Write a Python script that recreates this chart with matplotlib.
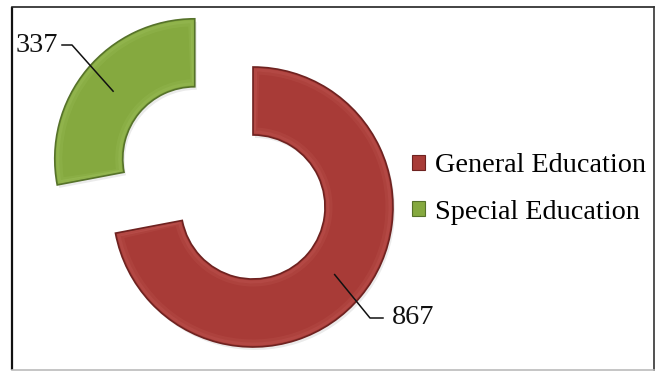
import numpy as np
import matplotlib
matplotlib.use("Agg")
import matplotlib.pyplot as plt
from matplotlib.patches import Wedge

# Enrolment by programme
categories = ["General Education", "Special Education"]
counts = [867, 337]
fill_colors = ["#A83B37", "#85A93F"]
edge_colors = ["#6E2220", "#56722A"]
light_colors = ["#C9625D", "#A6C865"]

W, H = 660, 371
fig = plt.figure(figsize=(W / 100, H / 100), dpi=100)
ax = fig.add_axes([0, 0, 1, 1])

def Y(y_img):
    return H - y_img

# frame around the chart area
ax.plot([12, 12], [Y(7), Y(370)], color="#111111", lw=1.6, solid_capstyle="butt")
ax.plot([12, 654], [Y(7), Y(7)], color="#222222", lw=1.2)
ax.plot([654, 654], [Y(7), Y(370)], color="#333333", lw=1.2)
ax.plot([12, 654], [Y(369.5), Y(369.5)], color="#BBBBBB", lw=1.2)

R = 140
RING = 68
wedges, _ = ax.pie(
    counts, radius=R, center=(253, Y(207)), explode=[0, 75.6],
    startangle=90, counterclock=False, colors=fill_colors,
    wedgeprops=dict(width=RING, edgecolor="none"), frame=True,
)
ax.set_xlim(0, W)
ax.set_ylim(0, H)
ax.set_aspect("auto")
ax.axis("off")

# bevel: soft light band inside the rim and a dark outline
for w, fc, ec, lc in zip(wedges, fill_colors, edge_colors, light_colors):
    cx, cy = w.center
    t1, t2 = w.theta1, w.theta2
    for k, a in [(3, 0.35), (6, 0.18)]:
        inner = Wedge((cx, cy), R - k, t1 + k * 0.35, t2 - k * 0.35,
                      width=RING - 2 * k, facecolor="none",
                      edgecolor=lc, lw=2.2, alpha=a, zorder=3)
        ax.add_patch(inner)
    ax.add_patch(Wedge((cx, cy), R, t1, t2, width=RING, facecolor="none",
                       edgecolor=ec, lw=1.2, zorder=4))
    # faint drop shadow
    ax.add_patch(Wedge((cx + 2, cy - 3), R, t1, t2, width=RING,
                       facecolor="#000000", alpha=0.08, edgecolor="none",
                       zorder=0.5))

def anchor(w):
    cx, cy = w.center
    tm = np.deg2rad(0.5 * (w.theta1 + w.theta2))
    rm = R - RING / 2
    return cx + rm * np.cos(tm), cy + rm * np.sin(tm)

serif = ["Liberation Serif", "DejaVu Serif"]
fs = 20.3

# value labels with leader lines
ax_g, ay_g = anchor(wedges[0])
ax.plot([ax_g, 370, 383], [ay_g, Y(318), Y(318)], color="#111111", lw=1.1, zorder=5)
ax.text(392, Y(318), f"{counts[0]}", ha="left", va="center",
        fontsize=fs, family=serif, color="#111111")

ax_s, ay_s = anchor(wedges[1])
ax.plot([ax_s, 72, 62], [ay_s, Y(45), Y(45)], color="#111111", lw=1.1, zorder=5)
ax.text(58, Y(46), f"{counts[1]}", ha="right", va="center",
        fontsize=fs, family=serif, color="#111111")

leg = ax.legend(
    wedges, categories, loc="center left", bbox_to_anchor=(412 / W, 1 - 189 / H),
    frameon=False, prop=dict(family=serif, size=fs),
    handlelength=0.46, handleheight=0.46, handletextpad=0.34,
    labelspacing=0.75, borderpad=0, borderaxespad=0,
)
for h, ec in zip(leg.legend_handles, edge_colors):
    h.set_edgecolor(ec)
    h.set_linewidth(0.8)

fig.savefig("out.png", dpi=100)
